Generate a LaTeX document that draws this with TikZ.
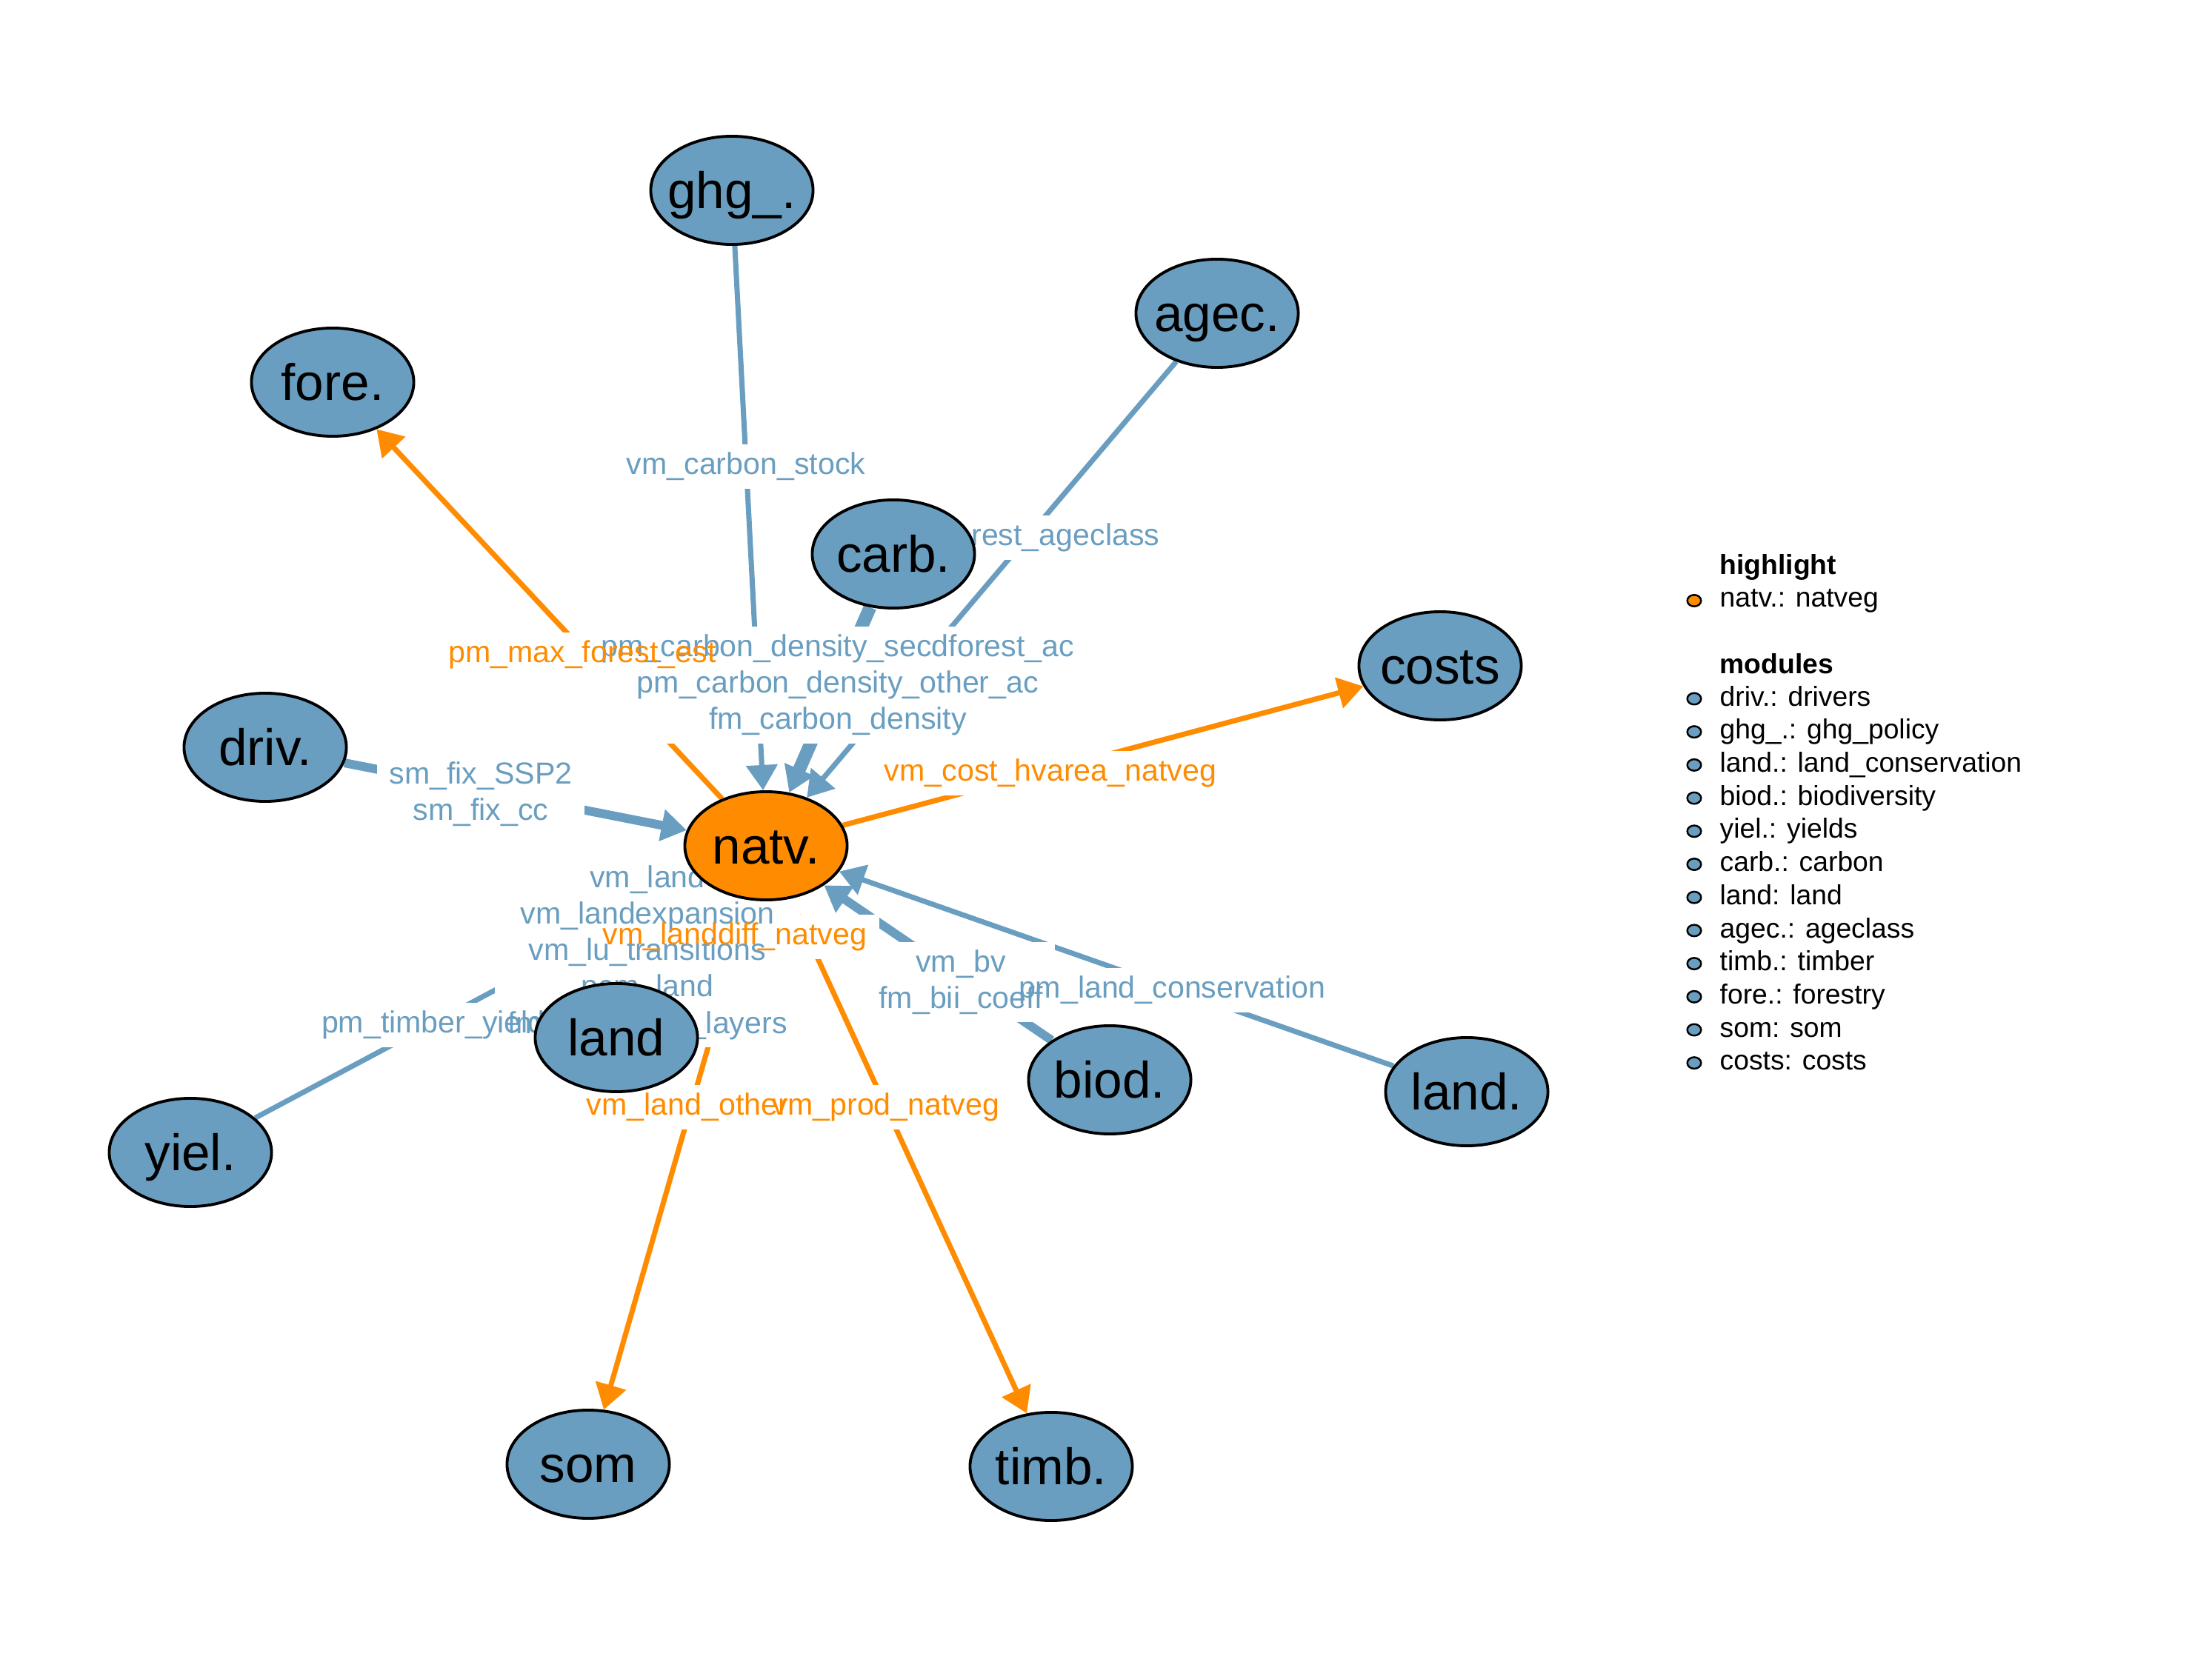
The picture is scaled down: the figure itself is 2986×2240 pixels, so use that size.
\documentclass[tikz,border=0pt]{standalone}
\usepackage{fontspec}
\setmainfont{Liberation Sans}
\usetikzlibrary{shapes.geometric,arrows.meta}

\definecolor{modblue}{RGB}{106,158,192}
\definecolor{hlorange}{RGB}{255,140,0}

\pgfdeclarelayer{edges}
\pgfdeclarelayer{lblbg}
\pgfdeclarelayer{lbltext}
\pgfsetlayers{edges,lblbg,lbltext,main}

% edge label: white box under all texts, text above all boxes
\newcommand{\elab}[4]{%
  \begin{pgfonlayer}{lblbg}
    \node[elbl,fill=white,text=white] (#1-bg) at (#2) {#4};
  \end{pgfonlayer}
  \begin{pgfonlayer}{lbltext}
    \node[elbl,text=#3] (#1) at (#2) {#4};
  \end{pgfonlayer}}
\newcommand{\mtxt}[1]{\makebox[0pt]{#1}}

\begin{document}
\begin{tikzpicture}[
   x=0.01cm,y=-0.01cm,
   module/.style={ellipse,draw,line width=1.1pt,fill=modblue,minimum width=2.19cm,minimum height=1.46cm,
     inner sep=0pt,text height=14.1pt,text depth=0pt,font=\fontsize{19.7}{23}\selectfont},
   hl/.style={module,fill=hlorange},
   elbl/.style={align=center,inner xsep=4.8pt,inner ysep=3pt,font=\fontsize{11.7}{14}\selectfont},
   inedge/.style={draw=modblue,-{Triangle[length=9.7pt,width=11.8pt]}},
   outedge/.style={draw=hlorange,line width=2pt,-{Triangle[length=9.7pt,width=11.8pt]}},
   legdot/.style={ellipse,draw,line width=0.7pt,fill=modblue,minimum width=0.186cm,minimum height=0.155cm,inner sep=0pt},
   legtxt/.style={anchor=base west,inner sep=0pt,font=\fontsize{10.6}{12.7}\selectfont}
 ]
  \useasboundingbox (0,0) rectangle (2986,2240);

  \node[hl] (natv) at (1034,1142) {\mtxt{natv.}};
  \node[module] (ghg) at (988,257) {\mtxt{ghg\_.}};
  \node[module] (agec) at (1643,423) {\mtxt{agec.}};
  \node[module] (fore) at (449,516) {\mtxt{fore.}};
  \node[module] (carb) at (1206,748) {\mtxt{carb.}};
  \node[module] (costs) at (1944,899) {\mtxt{costs}};
  \node[module] (driv) at (358,1009) {\mtxt{driv.}};
  \node[module] (land) at (832,1401) {\mtxt{land}};
  \node[module] (biod) at (1498,1458) {\mtxt{biod.}};
  \node[module] (landcons) at (1980,1474) {\mtxt{land.}};
  \node[module] (yiel) at (257,1556) {\mtxt{yiel.}};
  \node[module] (som) at (794,1977) {\mtxt{som}};
  \node[module] (timb) at (1419,1980) {\mtxt{timb.}};

  \begin{pgfonlayer}{edges}
    \draw[inedge,line width=2pt] (ghg) -- (natv);
    \draw[inedge,line width=2pt] (agec) -- (natv);
    \draw[inedge,line width=5pt] (carb) -- (natv);
    \draw[inedge,line width=3.4pt] (driv) -- (natv);
    \draw[inedge,line width=6pt] (land) -- (natv);
    \draw[inedge,line width=2pt] (yiel) -- (natv);
    \draw[inedge,line width=3.4pt] (biod) -- (natv);
    \draw[inedge,line width=2pt] (landcons) -- (natv);
    \draw[outedge] (natv) -- (fore);
    \draw[outedge] (natv) -- (costs);
    \draw[outedge] (natv) -- (land);
    \draw[outedge] (natv) -- (som);
    \draw[outedge] (natv) -- (timb);
  \end{pgfonlayer}

  \elab{lcstock}{1007,630}{modblue}{vm\_carbon\_stock}
  \elab{lageclass}{1388,726}{modblue}{im\_forest\_ageclass}
  \elab{lcdens}{1131,925}{modblue}{pm\_carbon\_density\_secdforest\_ac\\pm\_carbon\_density\_other\_ac\\fm\_carbon\_density}
  \elab{lmaxfor}{786,884}{hlorange}{pm\_max\_forest\_est}
  \elab{lfix}{649,1072}{modblue}{sm\_fix\_SSP2\\sm\_fix\_cc}
  \elab{lcosthv}{1418,1044}{hlorange}{vm\_cost\_hvarea\_natveg}
  \elab{lland}{874,1286}{modblue}{vm\_land\\vm\_landexpansion\\vm\_lu\_transitions\\pcm\_land\\fm\_luh2\_side\_layers}
  \elab{llanddiff}{992,1265}{hlorange}{vm\_landdiff\_natveg}
  \elab{ltimber}{585,1384}{modblue}{pm\_timber\_yield}
  \elab{lbv}{1297,1326}{modblue}{vm\_bv\\fm\_bii\_coeff}
  \elab{lconserv}{1582,1337}{modblue}{pm\_land\_conservation}
  \elab{lother}{928,1495}{hlorange}{vm\_land\_other}
  \elab{lprod}{1196,1495}{hlorange}{vm\_prod\_natveg}

  % legend
  \node[legtxt] (hdhl) at (2321,776) {\bfseries highlight};
  \node[legdot,fill=hlorange] (dot0) at (2287,811) {};
  \node[legtxt] (leg0) at (2321,820) {natv.: natveg};
  \node[legtxt] (hdmod) at (2321,910) {\bfseries modules};
  \foreach \txt [count=\k] in {driv.: drivers,ghg\_.: ghg\_policy,land.: land\_conservation,
      biod.: biodiversity,yiel.: yields,carb.: carbon,land: land,agec.: ageclass,
      timb.: timber,fore.: forestry,som: som,costs: costs}{
    \node[legdot] (dot\k) at (2287,{943.5+44.7*(\k-1)}) {};
    \node[legtxt] (leg\k) at (2321,{953.2+44.7*(\k-1)}) {\txt};
  }
\end{tikzpicture}
\end{document}
